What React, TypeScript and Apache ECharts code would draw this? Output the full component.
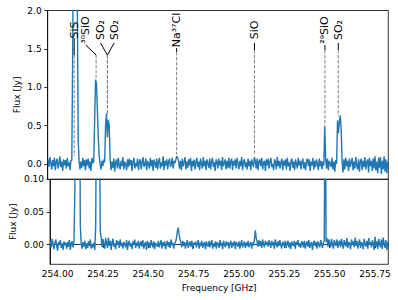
import React, { useEffect, useRef } from 'react';
import * as echarts from 'echarts';

// Spectral channels: first channel frequency and channel width (GHz)
const FREQ_START = 253.96;
const CHANNEL_WIDTH = 0.005;

// Upper panel flux (Jy), one value per channel
const topFlux = [
  0.06, -0.04, 0.09, 0.01, -0.07, 0.05, -0.03, 0.08, -0.08, 0.03, 0.07, -0.06, 0.0, 0.1, -0.04, 0.03, -0.09, 0.06, -0.02, 0.05,
  -0.06, 0.08, -0.03, 0.02, -0.08, 0.04, 0.05, 1.5, 3.5, 4.0, 3.8, 3.0, 2.2, 0.3, 0.04, -0.07, 0.03, -0.05, 0.08, -0.03,
  0.05, -0.08, 0.06, -0.02, 0.07, -0.06, 0.03, -0.09, 0.08, 0.01, 0.03, 0.55, 1.1, 1.05, 0.7, 0.35, 0.1, 0.0, -0.07, 0.04,
  -0.03, 0.06, 0.02, 0.5, 0.66, 0.35, 0.57, 0.5, 0.05, -0.08, 0.03, -0.05, 0.07, -0.1, 0.02, 0.06, -0.06, 0.08, -0.02, -0.07,
  0.04, -0.03, 0.09, -0.07, 0.03, 0.0, -0.08, 0.06, -0.04, 0.07, -0.02, 0.05, -0.09, 0.03, 0.08, -0.06, 0.01, -0.03, 0.07, -0.08,
  0.03, 0.06, -0.07, 0.02, 0.09, -0.04, -0.01, 0.07, -0.08, 0.04, 0.0, -0.06, 0.08, -0.03, 0.05, -0.09, 0.06, 0.01, -0.05, 0.07,
  -0.07, 0.03, 0.08, -0.06, 0.02, -0.03, 0.1, -0.08, 0.04, -0.02, 0.06, -0.07, 0.03, 0.07, -0.04, 0.0, 0.08, -0.06, 0.04, 0.01,
  0.06, 0.1, 0.08, 0.03, -0.06, 0.04, -0.08, 0.07, -0.03, 0.02, 0.09, -0.07, 0.03, -0.05, 0.06, -0.02, 0.08, -0.09, 0.04, -0.03,
  0.06, -0.07, 0.02, 0.08, -0.04, 0.03, -0.08, 0.07, 0.0, -0.06, 0.09, -0.03, 0.04, -0.08, 0.06, 0.01, -0.05, 0.07, -0.07, 0.03,
  0.08, -0.04, 0.02, -0.09, 0.06, 0.03, -0.06, 0.07, -0.02, 0.04, -0.08, 0.09, -0.03, 0.01, 0.06, -0.07, 0.04, -0.05, 0.08, -0.06,
  0.03, 0.07, -0.08, 0.04, -0.02, 0.06, -0.06, 0.08, 0.0, -0.07, 0.04, -0.03, 0.09, -0.08, 0.03, 0.06, -0.04, 0.02, -0.07, 0.07,
  -0.03, 0.04, -0.08, 0.06, 0.01, -0.04, 0.09, 0.04, -0.06, 0.07, -0.08, 0.03, 0.06, -0.03, 0.08, -0.07, 0.02, 0.04, -0.09, 0.06,
  -0.02, 0.07, -0.06, 0.03, 0.08, -0.04, 0.0, -0.08, 0.06, 0.03, -0.07, 0.09, -0.03, 0.04, -0.06, 0.02, 0.07, -0.08, 0.04, -0.02,
  0.06, -0.07, 0.08, -0.03, 0.02, -0.09, 0.04, 0.07, -0.05, 0.03, -0.08, 0.06, 0.0, -0.06, 0.08, -0.02, 0.04, -0.07, 0.03, 0.07,
  -0.06, 0.02, -0.08, 0.04, 0.07, -0.03, 0.06, -0.09, 0.03, -0.02, 0.08, -0.07, 0.04, -0.04, 0.06, 0.0, -0.08, 0.07, -0.03, 0.04,
  -0.07, 0.03, -0.02, 0.49, 0.06, -0.06, 0.07, -0.08, 0.04, 0.01, -0.04, 0.08, -0.07, 0.03, -0.1, 0.05, 0.0, 0.57, 0.4, 0.55,
  0.63, 0.45, 0.02, -0.11, 0.06, -0.07, 0.08, -0.03, 0.04, -0.09, 0.07, -0.04, 0.02, 0.08, -0.08, 0.03, -0.06, 0.09, -0.02, -0.07,
  0.06, -0.1, 0.03, 0.07, -0.08, 0.04, -0.04, 0.09, -0.07, 0.02, 0.06, -0.11, 0.08, -0.03, 0.04, -0.09, 0.07, -0.06, 0.1, -0.08,
  0.03, -0.12, 0.08, -0.05, 0.09, -0.13, 0.04, -0.07, 0.1, -0.1, 0.06, -0.12, 0.03,
];

// Lower panel flux (Jy), one value per channel
const bottomFlux = [
  0.006, -0.004, 0.009, 0.001, -0.007, 0.003, 0.008, -0.002, -0.009, 0.004, 0.0, 0.007, -0.005, 0.002, -0.008, 0.005, -0.001, 0.003, -0.006, 0.004,
  -0.003, 0.007, -0.008, 0.002, 0.005, -0.004, 0.004, 0.08, 0.5, 0.9, 1.1, 0.9, 0.4, 0.03, 0.002, -0.006, 0.004, -0.003, 0.006, -0.007,
  0.002, -0.005, 0.005, -0.002, 0.008, -0.006, 0.001, -0.004, 0.003, -0.008, 0.03, 0.3, 0.6, 0.55, 0.25, 0.02, 0.012, -0.004, 0.009, 0.001,
  -0.006, 0.01, 0.003, -0.005, 0.011, -0.002, 0.006, -0.008, 0.004, 0.009, -0.003, 0.002, -0.007, 0.007, 0.0, 0.005, -0.005, 0.008, -0.002, 0.003,
  -0.006, 0.004, 0.001, -0.004, 0.007, -0.008, 0.003, 0.006, -0.003, 0.002, -0.007, 0.005, 0.0, 0.008, -0.005, 0.003, -0.002, 0.006, -0.006, 0.002,
  0.005, -0.003, 0.007, -0.006, 0.001, 0.004, -0.008, 0.006, -0.001, 0.003, -0.005, 0.007, 0.002, -0.004, 0.005, -0.007, 0.003, 0.0, -0.003, 0.006,
  -0.004, 0.002, 0.007, -0.006, 0.004, -0.002, 0.005, -0.007, 0.001, 0.006, -0.003, 0.004, -0.005, 0.008, -0.001, 0.003, -0.006, 0.002, 0.004, 0.01,
  0.02, 0.026, 0.015, 0.008, 0.003, -0.004, 0.006, -0.002, 0.004, -0.006, 0.002, 0.007, -0.005, 0.001, 0.005, -0.003, 0.006, -0.007, 0.003, 0.0,
  0.005, -0.004, 0.002, 0.007, -0.006, 0.003, -0.002, 0.006, -0.005, 0.001, 0.004, -0.007, 0.005, 0.0, -0.003, 0.006, -0.004, 0.003, 0.007, -0.006,
  0.002, -0.003, 0.005, -0.006, 0.004, 0.001, -0.005, 0.007, -0.002, 0.003, -0.007, 0.006, 0.0, -0.004, 0.005, -0.001, 0.004, -0.006, 0.002, 0.006,
  -0.005, 0.003, -0.002, 0.006, -0.007, 0.004, 0.001, -0.003, 0.005, -0.006, 0.002, 0.007, -0.004, 0.0, 0.005, -0.005, 0.003, -0.002, 0.006, -0.004,
  0.001, 0.004, -0.006, 0.003, -0.001, 0.008, 0.022, 0.01, 0.004, -0.003, 0.007, -0.002, 0.005, -0.005, 0.008, 0.001, -0.004, 0.006, 0.0, 0.004,
  -0.003, 0.007, 0.002, -0.005, 0.006, -0.001, 0.004, -0.006, 0.008, 0.002, -0.004, 0.005, -0.002, 0.007, 0.0, -0.006, 0.004, 0.003, -0.003, 0.006,
  -0.005, 0.002, 0.006, -0.004, 0.003, -0.007, 0.005, 0.001, -0.002, 0.006, -0.006, 0.004, 0.0, 0.007, -0.003, 0.002, -0.005, 0.005, 0.003, -0.004,
  0.006, -0.006, 0.002, 0.005, -0.003, 0.007, -0.005, 0.001, 0.004, -0.008, 0.003, 0.006, -0.002, 0.004, -0.006, 0.005, 0.0, -0.004, 0.007, 0.001,
  -0.005, 0.003, 0.006, 0.3, 0.004, 0.01, -0.003, 0.008, 0.002, -0.004, 0.009, 0.0, -0.006, 0.007, 0.003, -0.002, 0.008, -0.005, 0.004, 0.006,
  -0.004, 0.009, 0.001, -0.006, 0.007, 0.003, -0.003, 0.01, -0.005, 0.004, 0.002, -0.007, 0.008, 0.0, 0.005, -0.004, 0.011, -0.002, 0.006, -0.006,
  0.003, 0.008, -0.005, 0.004, 0.001, -0.007, 0.009, 0.002, -0.003, 0.006, -0.006, 0.01, 0.0, 0.004, -0.004, 0.007, 0.002, -0.008, 0.012, -0.003,
  0.005, -0.006, 0.009, 0.001, -0.004, 0.008, -0.007, 0.011, 0.002, -0.005, 0.007, -0.008, 0.004,
];

// Axis ticks
const xTicks = [254.0, 254.25, 254.5, 254.75, 255.0, 255.25, 255.5, 255.75];
const topYTicks = [0.0, 0.5, 1.0, 1.5, 2.0];
const bottomYTicks = [0.0, 0.05, 0.1];

// Line identifications (upper panel)
const lineLabels = ['SiS', '³⁰SiO', 'SO₂', 'SO₂', 'Na³⁷Cl', 'SiO', '²⁹SiO', 'SO₂'];
const labelFreqs = [254.103, 254.166, 254.247, 254.322, 254.664, 255.09, 255.476, 255.549];
const lineFreqs = [254.103, 254.223, 254.285, 254.285, 254.664, 255.09, 255.476, 255.549];
const labelCenterFlux = 1.746;
const solidTopFlux = [1.64, 1.55, 1.577, 1.577, 1.51, 1.577, 1.55, 1.577];
const dashTopFlux = [1.42, 1.42, 1.42, 1.42, 1.46, 1.485, 1.485, 1.485];
const dashBottomFlux = [0.1, 1.12, 0.65, 0.65, 0.12, 0.12, 0.49, 0.62];

const FONT = 'DejaVu Sans';

export default function App() {
  const ref = useRef<HTMLDivElement>(null);

  useEffect(() => {
    const chart = echarts.init(ref.current!, null, { renderer: 'svg' });
    const toPairs = (arr: number[]) => arr.map((v, i) => [FREQ_START + i * CHANNEL_WIDTH, v]);

    const xMin = 253.958;
    const xMax = 255.823;
    const axisLineStyle = { color: '#000', width: 0.8 };
    const labelStyle = { color: '#000', fontSize: 9, fontFamily: FONT };

    chart.setOption({
      animation: false,
      backgroundColor: '#fff',
      grid: [
        { left: 47.7, right: 9.7, top: 10.5, height: 168.8, show: true, borderColor: '#000', borderWidth: 0.8, backgroundColor: 'transparent' },
        { left: 47.7, right: 9.7, top: 179.3, height: 85, show: true, borderColor: '#000', borderWidth: 0.8, backgroundColor: 'transparent' },
      ],
      xAxis: [
        {
          type: 'value', gridIndex: 0, min: xMin, max: xMax,
          axisLine: { show: false }, axisTick: { show: false }, axisLabel: { show: false }, splitLine: { show: false },
        },
        {
          type: 'value', gridIndex: 1, min: xMin, max: xMax,
          axisLine: { show: true, lineStyle: axisLineStyle },
          axisTick: { show: true, customValues: xTicks, length: 3.5, lineStyle: axisLineStyle },
          axisLabel: { show: true, customValues: xTicks, formatter: (v: number) => v.toFixed(2), margin: 5, ...labelStyle },
          splitLine: { show: false },
          name: 'Frequency [GHz]', nameLocation: 'middle', nameGap: 19,
          nameTextStyle: { ...labelStyle },
        },
      ],
      yAxis: [
        {
          type: 'value', gridIndex: 0, min: -0.2, max: 2.0,
          axisLine: { show: true, lineStyle: axisLineStyle },
          axisTick: { show: true, customValues: topYTicks, length: 3.5, lineStyle: axisLineStyle },
          axisLabel: { show: true, customValues: topYTicks, formatter: (v: number) => v.toFixed(1), margin: 6, ...labelStyle },
          splitLine: { show: false },
          name: 'Flux [Jy]', nameLocation: 'middle', nameGap: 26, nameMoveOverlap: false, nameTextStyle: { ...labelStyle },
        },
        {
          type: 'value', gridIndex: 1, min: -0.03, max: 0.1,
          axisLine: { show: true, lineStyle: axisLineStyle },
          axisTick: { show: true, customValues: bottomYTicks, length: 3.5, lineStyle: axisLineStyle },
          axisLabel: { show: true, customValues: bottomYTicks, formatter: (v: number) => v.toFixed(2), margin: 6, ...labelStyle },
          splitLine: { show: false },
          name: 'Flux [Jy]', nameLocation: 'middle', nameGap: 33, nameMoveOverlap: false, nameTextStyle: { ...labelStyle },
        },
      ],
      series: [
        {
          type: 'line', xAxisIndex: 0, yAxisIndex: 0, data: toPairs(topFlux),
          showSymbol: false, clip: true, lineStyle: { color: '#1f77b4', width: 1.4 }, z: 2,
        },
        {
          type: 'line', xAxisIndex: 1, yAxisIndex: 1, data: toPairs(bottomFlux),
          showSymbol: false, clip: true, lineStyle: { color: '#1f77b4', width: 1.4 }, z: 2,
        },
      ],
    });

    const px = (f: number, y: number) => chart.convertToPixel({ gridIndex: 0 }, [f, y]) as number[];
    const graphic: any[] = [];
    lineLabels.forEach((label, i) => {
      const c = px(labelFreqs[i], labelCenterFlux);
      const s = px(labelFreqs[i], solidTopFlux[i]);
      const d = px(lineFreqs[i], dashTopFlux[i]);
      const b = px(lineFreqs[i], dashBottomFlux[i]);
      graphic.push({
        type: 'line', z: 10,
        shape: { x1: d[0], y1: d[1], x2: b[0], y2: b[1] },
        style: { stroke: '#808080', lineWidth: 1, lineDash: [3.5, 1.5] },
      });
      graphic.push({
        type: 'line', z: 10,
        shape: { x1: s[0], y1: s[1], x2: d[0], y2: d[1] },
        style: { stroke: '#000', lineWidth: 1 },
      });
      graphic.push({
        type: 'text', z: 11, x: c[0], y: c[1], rotation: Math.PI / 2,
        style: {
          text: label, fill: '#000', fontSize: 11, fontFamily: FONT,
          textAlign: 'center', textVerticalAlign: 'middle', align: 'center', verticalAlign: 'middle',
        },
      });
    });
    chart.setOption({ graphic });

    return () => chart.dispose();
  }, []);

  return <div ref={ref} style={{ position: 'fixed', left: 0, top: 0, width: 398, height: 300 }} />;
}
